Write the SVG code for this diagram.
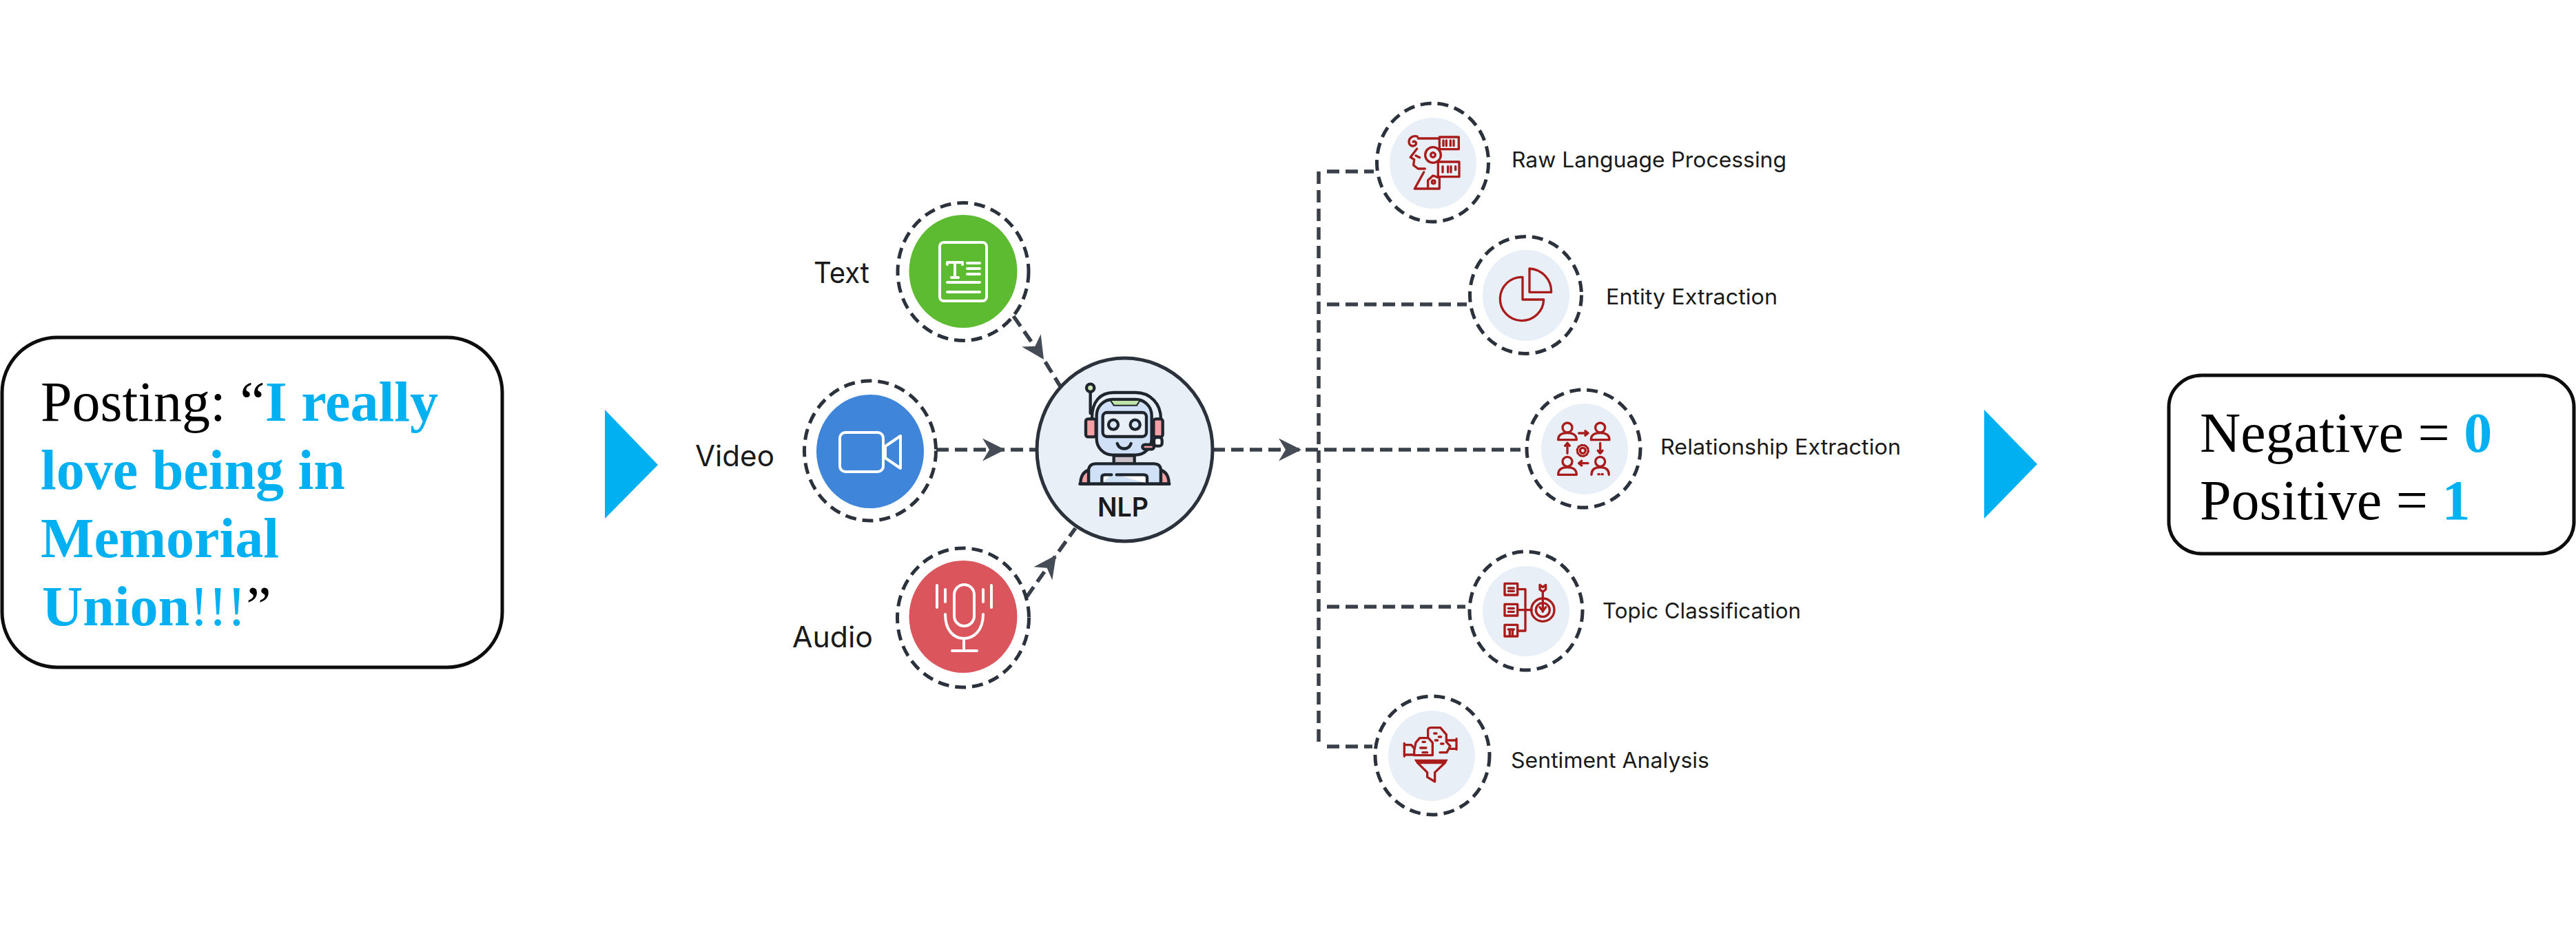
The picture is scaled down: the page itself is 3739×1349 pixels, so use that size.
<svg xmlns="http://www.w3.org/2000/svg" width="3739" height="1349" viewBox="0 0 3739 1349">
<style>
.box{fill:#fff;stroke:#0d0d0d;stroke-width:5}
.serif{font-family:"Liberation Serif","Times New Roman",serif;font-size:82px;fill:#000}
.hl{fill:#00B0F0;font-weight:700}
.hlr{fill:#00B0F0}
.tri{fill:#00B0F0}
.ring{fill:none;stroke:#2b323c;stroke-width:5;stroke-dasharray:16 9}
.pale{fill:#E8EFF7}
.conn{fill:none;stroke:#39404a;stroke-width:5.500;stroke-dasharray:18 9}
.lab{font-family:Inter,"Liberation Sans",sans-serif;font-size:31px;fill:#1a1a1a}
.big{font-family:Inter,"Liberation Sans",sans-serif;font-size:42px;fill:#1a1a1a}
.wi{fill:none;stroke:#fff;stroke-width:4;stroke-linecap:round;stroke-linejoin:round}
.ri{fill:none;stroke:#A81C1C;stroke-width:10;stroke-linecap:round;stroke-linejoin:round}
.rf{fill:#A81C1C;stroke:none}
.rb{fill:none;stroke:#1f252c;stroke-width:13;stroke-linecap:round;stroke-linejoin:round}
</style>
<defs>
<marker id="head" markerUnits="userSpaceOnUse" markerWidth="40" markerHeight="40" viewBox="-36 -20 40 40" refX="0" refY="0" orient="auto">
<path d="M0 0L-33 -16.500L-23 0L-33 16.500Z" fill="#454c56"/>
</marker>
</defs>
<rect width="3739" height="1349" fill="#fff"/>

<g id="connectors">
<path class="conn" d="M1471 459L1515 522L1539 561" marker-mid="url(#head)"/>
<path class="conn" d="M1359 653L1459 653L1505 653" marker-mid="url(#head)"/>
<path class="conn" d="M1490 867L1533 806L1561 767" marker-mid="url(#head)"/>
<path class="conn" d="M1760 653L1889 653L2207 653" marker-mid="url(#head)"/>
<path class="conn" d="M1914 249V1084"/>
<path class="conn" d="M1926 249H1994"/>
<path class="conn" d="M1926 442H2129"/>
<path class="conn" d="M1926 881H2127"/>
<path class="conn" d="M1926 1084H1992"/>
</g>

<g id="posting">
<rect class="box" x="3" y="490" width="726" height="479" rx="80" ry="80"/>
<text class="serif" x="59" y="611">Posting: “<tspan class="hl">I really</tspan></text>
<text class="serif hl" x="59" y="710">love being in</text>
<text class="serif hl" x="59" y="809">Memorial</text>
<text class="serif" x="61" y="908"><tspan class="hl">Union</tspan><tspan class="hlr">!!!</tspan>”</text>
</g>
<polygon id="arrow-left" class="tri" points="878,595 955,675 878,753"/>

<g id="node-text">
<ellipse class="ring" cx="1398" cy="394.500" rx="95" ry="100"/>
<ellipse cx="1398" cy="394" rx="78.500" ry="82" fill="#5DBB31"/>
<rect class="wi" x="1364" y="352" width="68" height="85" rx="6"/>
<path class="wi" d="M1375 384V381H1397V384M1386 381V403M1381 403H1391M1404 382H1422M1404 390H1422M1404 398H1422M1375 410H1422M1375 424H1422"/>
<text class="big" x="1181" y="411" textLength="81" lengthAdjust="spacingAndGlyphs">Text</text>
</g>

<g id="node-video">
<ellipse class="ring" cx="1263" cy="654.500" rx="95.500" ry="101.500"/>
<ellipse cx="1263" cy="655.500" rx="78" ry="82.500" fill="#3F86DB"/>
<rect class="wi" x="1219" y="628" width="63" height="57" rx="8"/>
<path class="wi" d="M1285 648L1307 633V680L1285 665Z"/>
<text class="big" x="1009" y="677" textLength="115" lengthAdjust="spacingAndGlyphs">Video</text>
</g>

<g id="node-audio">
<ellipse class="ring" cx="1398" cy="897" rx="95.500" ry="101"/>
<ellipse cx="1398" cy="895.500" rx="78.500" ry="81.500" fill="#DB565C"/>
<rect class="wi" x="1385" y="849" width="29" height="60" rx="14.500"/>
<path class="wi" d="M1372 892C1372 915 1384 927 1399 927C1414 927 1427 915 1427 892M1399 927V945M1382 945H1418M1360 850V882M1372 856V874M1427 856V874M1439 850V882"/>
<text class="big" x="1150" y="940" textLength="117" lengthAdjust="spacingAndGlyphs">Audio</text>
</g>

<g id="node-nlp">
<ellipse cx="1632.500" cy="653" rx="127.500" ry="133" fill="#E8EFF7" stroke="#2b323c" stroke-width="5"/>
<g transform="translate(1490,500) scale(0.3333)">
<path class="rb" d="M285 320C285 250 320 210 380 210H475C540 210 585 260 585 325"/>
<path class="rb" d="M278 208V300"/>
<circle class="rb" cx="278" cy="190" r="17" style="fill:#cfe8b8"/>
<rect class="rb" x="305" y="240" width="240" height="242" rx="70" style="fill:#cfe0f7"/>
<path d="M365 243H495L480 266H380Z" fill="#bfe3a8" stroke="#1f252c" stroke-width="6"/>
<rect class="rb" x="332" y="297" width="190" height="105" rx="18" style="fill:#E8EFF7"/>
<circle class="rb" cx="378" cy="350" r="21" style="fill:#d8e8fa"/>
<circle class="rb" cx="473" cy="350" r="21" style="fill:#d8e8fa"/>
<path class="rb" d="M395 432C405 462 445 462 455 432"/>
<rect class="rb" x="258" y="325" width="44" height="78" rx="10" style="fill:#f4a0a5"/>
<rect class="rb" x="553" y="325" width="40" height="78" rx="10" style="fill:#f4a0a5"/>
<rect class="rb" x="555" y="405" width="35" height="38" rx="12" style="fill:#fff"/>
<rect class="rb" x="505" y="437" width="50" height="20" rx="10" style="fill:#f4a0a5"/>
<rect class="rb" x="380" y="485" width="90" height="35" style="fill:#c9bfc9"/>
<path class="rb" d="M270 608V545Q275 520 300 520H555Q582 520 585 545V608Z" style="fill:#cfe0f7"/>
<path class="rb" d="M270 548Q235 560 235 608H270Z" style="fill:#f4a0a5"/>
<path class="rb" d="M585 548Q620 560 620 608H585Z" style="fill:#f4a0a5"/>
<path class="rb" d="M328 606V580Q328 568 340 568H370M392 568H510Q525 568 525 580V606" style="fill:#fff"/>
<path class="rb" d="M232 608H622"/>
</g>
<text x="1593" y="750" textLength="74" lengthAdjust="spacingAndGlyphs" font-family="Inter,'Liberation Sans',sans-serif" font-size="38" font-weight="600" fill="#1a1a1a">NLP</text>
</g>

<g id="node-raw">
<ellipse class="ring" cx="2079.500" cy="236" rx="81" ry="86"/>
<ellipse class="pale" cx="2080" cy="237" rx="63" ry="66"/>
<g transform="translate(2000,130) scale(0.3333)">
<rect class="ri" x="268" y="207" width="84" height="53"/>
<rect class="ri" x="262" y="315" width="92" height="65"/>
<path class="ri" d="M285 222V245M298 222V245M316 222V245M330 222V245M282 335V360M305 335V360M318 335V360M338 335V350"/>
<path class="ri" d="M175 213H268M172 205C155 198 135 210 135 228C135 245 155 252 165 240C170 230 160 222 153 228"/>
<path class="ri" d="M170 258L142 295L158 305L155 330L175 345L205 345M200 360L160 432H268V385L240 375L218 395V432M165 288L182 296"/>
<circle class="ri" cx="240" cy="285" r="34"/>
<circle class="ri" cx="240" cy="285" r="10"/>
<circle class="ri" cx="242" cy="403" r="7"/>
</g>
<text class="lab" x="2194" y="243" textLength="399" lengthAdjust="spacingAndGlyphs">Raw Language Processing</text>
</g>

<g id="node-entity">
<ellipse class="ring" cx="2214.500" cy="428.500" rx="81" ry="85"/>
<ellipse class="pale" cx="2215" cy="429" rx="63" ry="66"/>
<g transform="translate(2130,330) scale(0.3333)">
<path class="ri" d="M240 217V315H332A95 95 0 1 1 240 217Z"/>
<path class="ri" d="M270 180V283H365A100 100 0 0 0 270 180Z"/>
</g>
<text class="lab" x="2331" y="442" textLength="249" lengthAdjust="spacingAndGlyphs">Entity Extraction</text>
</g>

<g id="node-relationship">
<ellipse class="ring" cx="2298.500" cy="651.500" rx="82.500" ry="85.500"/>
<ellipse class="pale" cx="2300" cy="652" rx="63" ry="66"/>
<g transform="translate(2210,560) scale(0.3333)">
<circle class="ri" cx="195" cy="183" r="21"/>
<path class="ri" d="M155 236Q155 206 195 206Q235 206 235 236Z"/>
<circle class="ri" cx="338" cy="183" r="21"/>
<path class="ri" d="M298 236Q298 206 338 206Q378 206 378 236Z"/>
<circle class="ri" cx="195" cy="331" r="21"/>
<path class="ri" d="M155 388Q155 356 195 356Q235 356 235 388Z"/>
<circle class="ri" cx="338" cy="331" r="21"/>
<path class="ri" d="M300 388Q300 356 338 356Q376 356 376 388M330 386H334M345 386H349"/>
<path class="ri" d="M245 207H283M273 197L285 207L273 217M338 250V293M328 283L338 295L348 283M285 338H247M257 328L245 338L257 348M195 295V252M185 262L195 250L205 262"/>
<circle class="ri" cx="262" cy="283" r="12"/>
<circle class="ri" cx="262" cy="283" r="24" style="stroke-dasharray:7 8"/>
</g>
<text class="lab" x="2410" y="660" textLength="349" lengthAdjust="spacingAndGlyphs">Relationship Extraction</text>
</g>

<g id="node-topic">
<ellipse class="ring" cx="2215" cy="887" rx="82" ry="86"/>
<ellipse class="pale" cx="2215" cy="887.500" rx="63" ry="65.500"/>
<g transform="translate(2120,790) scale(0.3333)">
<rect class="ri" x="192" y="172" width="56" height="50"/>
<rect class="ri" x="192" y="262" width="56" height="50"/>
<rect class="ri" x="192" y="352" width="56" height="50"/>
<path class="ri" d="M208 192H232M208 205H232M208 280H232M208 295H232M208 372H232M214 372V395M226 372V395"/>
<path class="ri" d="M248 197H282V378H248M248 287H310"/>
<circle class="ri" cx="358" cy="287" r="50"/>
<circle class="ri" cx="358" cy="287" r="30"/>
<path class="ri" d="M358 205V295M345 275L358 292L371 275M345 178V198L358 208L371 198V178L358 188Z"/>
</g>
<text class="lab" x="2326" y="898" textLength="288" lengthAdjust="spacingAndGlyphs">Topic Classification</text>
</g>

<g id="node-sentiment">
<ellipse class="ring" cx="2079" cy="1097" rx="83" ry="86"/>
<ellipse class="pale" cx="2078" cy="1097.500" rx="63" ry="65.500"/>
<g transform="translate(1990,1000) scale(0.3333)">
<path class="ri" d="M248 208V178Q250 170 262 170H302L328 200V232L345 250L330 278H300"/>
<path class="ri" d="M265 290H188V270L195 235L212 215H250L268 235V290"/>
<path class="ri" d="M145 245H175M145 288H188M175 245L190 262M330 225H372M345 262H372M372 218V265M145 238V295"/>
<path class="ri" d="M275 195H285M295 210H305M280 225H290M305 240H315M225 232H235M215 258H240M225 278H245"/>
<path class="rf" d="M188 308H335L325 328H200Z"/>
<path class="ri" d="M205 325L245 365V385L278 405V365L320 325"/>
</g>
<text class="lab" x="2193" y="1115" textLength="288" lengthAdjust="spacingAndGlyphs">Sentiment Analysis</text>
</g>

<polygon id="arrow-right" class="tri" points="2880,595 2957,674 2880,753"/>
<g id="result">
<rect class="box" x="3148" y="545" width="588" height="259" rx="48" ry="46"/>
<text class="serif" x="3193" y="656">Negative = <tspan class="hl">0</tspan></text>
<text class="serif" x="3193" y="754">Positive = <tspan class="hl">1</tspan></text>
</g>
</svg>
